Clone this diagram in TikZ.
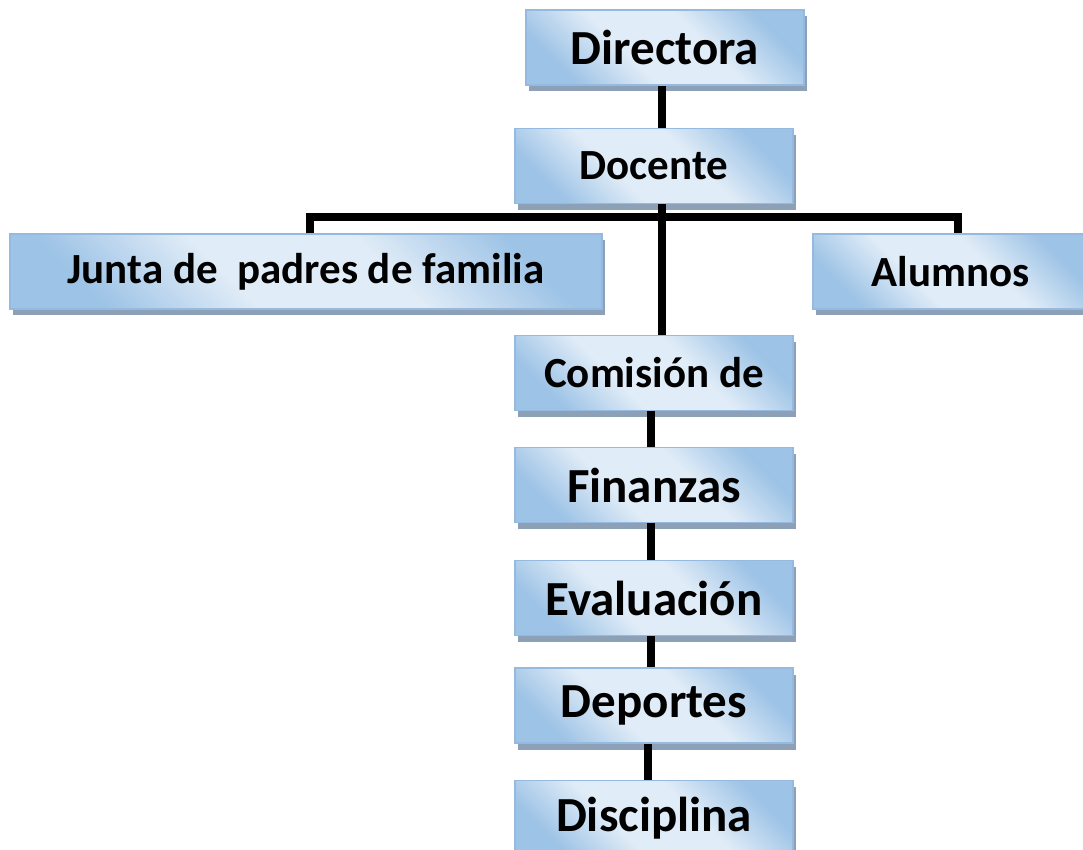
\documentclass[tikz,border=0pt]{standalone}
\usepackage{fontspec}
\setmainfont{Carlito}
\usetikzlibrary{positioning,shadows}
\definecolor{boxdark}{RGB}{157,195,230}
\definecolor{boxlight}{RGB}{224,236,247}
\definecolor{boxline}{RGB}{150,185,224}
\definecolor{boxshadow}{RGB}{140,161,184}
\pgfdeclareverticalshading{orgfill}{100bp}{color(0bp)=(boxdark); color(25bp)=(boxdark); color(41bp)=(boxlight); color(59bp)=(boxlight); color(75bp)=(boxdark); color(100bp)=(boxdark)}
\begin{document}
\begin{tikzpicture}[x=0.5pt,y=-0.5pt,node distance=18pt]
 \tikzstyle{org}=[rectangle,draw=boxline,line width=0.6pt,shading=orgfill,shading angle=-45,minimum width=139pt,minimum height=37.5pt,inner sep=0,font=\bfseries\fontsize{21.5}{25}\selectfont,drop shadow={shadow xshift=1.5pt,shadow yshift=-3.25pt,fill=boxshadow,opacity=1}]
 \tikzstyle{big}=[org,font=\bfseries\fontsize{24.5}{28}\selectfont]
 \tikzstyle{link}=[line width=4pt]
 \useasboundingbox (0,0) rectangle (1083,850);
  \node[big] (Directora) at (665,47.5) {Directora};
  \node[org] (Docente) [below=21pt of Directora,xshift=-5.5pt] {Docente};
  \node[org,minimum width=296pt] (Junta) at (306,271.5) {Junta de \ padres de familia};
  \node[org,minimum width=137.5pt] (Alumnos) at (950.5,271.5) {Alumnos};
  \node[org] (Comision) [below=65.5pt of Docente] {Comisión de};
  \node[big] (Finanzas) [below=of Comision] {Finanzas};
  \node[big] (Evaluacion) [below=18.5pt of Finanzas] {Evaluación};
  \node[big] (Deportes) [below=15.5pt of Evaluacion] {Deportes};
  \node[big] (Disciplina) [below=of Deportes] {Disciplina};
\draw[link] ([xshift=4pt]Docente.north) -- ([xshift=4pt]Docente.north |- Directora.south) ;
\draw[link] ([xshift=4pt]Docente.south) -- ([xshift=4pt]Docente.south |- Comision.north) ;
\draw[link] ([xshift=2pt]Junta.north) |- ([xshift=4pt,yshift=-6.5pt]Docente.south) -| ([xshift=3.75pt]Alumnos.north) ;
\draw[link] ([xshift=-1.5pt]Comision.south) -- ([xshift=-1.5pt]Finanzas.north) ;
\draw[link] ([xshift=-1.5pt]Finanzas.south) -- ([xshift=-1.5pt]Evaluacion.north) ;
\draw[link] ([xshift=-1.5pt]Evaluacion.south) -- ([xshift=-1.5pt]Deportes.north) ;
\draw[link] ([xshift=-3pt]Deportes.south) -- ([xshift=-3pt]Disciplina.north) ;
\end{tikzpicture}
\end{document}
